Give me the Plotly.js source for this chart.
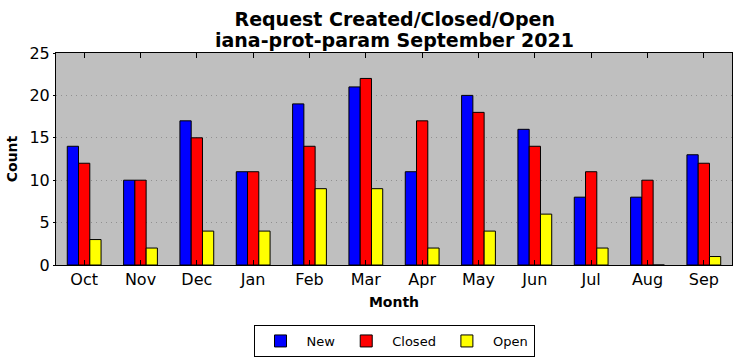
<!DOCTYPE html>
<html><head><meta charset="utf-8">
<script src="https://cdn.plot.ly/plotly-3.0.1.min.js"></script>
<style>html,body{margin:0;padding:0;background:#fff}</style>
</head><body>
<div id="chart" style="width:742px;height:361px"></div>
<script>
const months = ["Oct","Nov","Dec","Jan","Feb","Mar","Apr","May","Jun","Jul","Aug","Sep"];
const newCounts = [14,10,17,11,19,21,11,20,16,8,8,13];
const closedCounts = [12,10,15,11,14,22,17,18,14,11,10,12];
const openCounts = [3,2,4,4,9,9,2,4,6,2,0,1];
const yTicks = [0,5,10,15,20,25];
const titleLine1 = 'Request Created/Closed/Open';
const titleLine2 = 'iana-prot-param September 2021';

function series(name, vals, color){
  return {type:'bar', name:name, x:months, y:vals,
    marker:{color:color, line:{color:'#000', width:1}}};
}
const data = [
  series('New', newCounts, '#0000ff'),
  series('Closed', closedCounts, '#ff0000'),
  series('Open', openCounts, '#ffff00')
];
const tfont = {family:'DejaVu Sans', size:19, color:'#000'};
const layout = {
  width:742, height:361,
  margin:{l:56, r:10, t:53, b:96, autoexpand:false},
  paper_bgcolor:'#fff', plot_bgcolor:'#bfbfbf',
  font:{family:'DejaVu Sans', color:'#000'},
  title:{text:'<b>'+titleLine1+'</b>', font:tfont, x:0.532, xanchor:'center',
    yref:'container', y:1-19/361, yanchor:'middle'},
  annotations:[{text:'<b>'+titleLine2+'</b>', font:tfont, showarrow:false,
    xref:'paper', x:0.5, xanchor:'center', yref:'paper', y:1+(53-40)/212, yanchor:'middle'}],
  barmode:'group', bargap:0.4, bargroupgap:0,
  xaxis:{type:'category', range:[-0.5,11.5], ticks:'inside', ticklen:5, tickcolor:'#000',
    showline:true, linecolor:'#000', linewidth:1, mirror:'ticks', showgrid:false,
    tickfont:{family:'DejaVu Sans', size:16, color:'#000'},
    title:{text:'<b>Month</b>', font:{family:'DejaVu Sans', size:14, color:'#000'}, standoff:8}},
  yaxis:{range:[0,25], tickvals:yTicks, ticks:'outside', ticklen:2, tickcolor:'#000',
    showline:true, linecolor:'#000', linewidth:1, mirror:true,
    showgrid:true, gridcolor:'#909090', griddash:'1px,4px', gridwidth:1, zeroline:false,
    tickfont:{family:'DejaVu Sans', size:16, color:'#000'},
    title:{text:'<b>Count</b>', font:{family:'DejaVu Sans', size:14, color:'#000'}, standoff:8}},
  legend:{orientation:'h', x:0.531, xref:'container', xanchor:'center', yref:'container', y:1-325/361, yanchor:'top',
    bordercolor:'#000', borderwidth:1, bgcolor:'#fff',
    font:{family:'DejaVu Sans', size:13, color:'#000'}, itemwidth:42},
  showlegend:true
};
Plotly.newPlot('chart', data, layout, {displayModeBar:false, staticPlot:true});
</script>
</body></html>
